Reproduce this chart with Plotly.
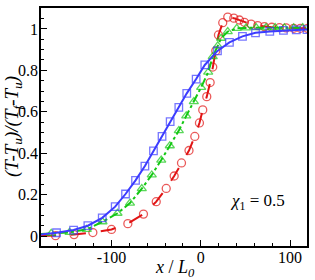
import plotly.graph_objects as go

# ---------------- data ----------------
red_x = [-179, -162.7, -142.0, -120.9, -100.0, -81.7, -64.2, -49.9, -38.7, -29.8, -21.6,
         -13.2, -6.7, -1.5, 2.2, 6.7, 10.5, 13.4, 16.8, 19.8, 24.6, 30.2, 37.0, 43.3,
         48.9, 56.4, 63.8, 71.3, 79.5, 88.1, 95.6, 104.1, 111.6, 119.5]
red_y = [0.0, 0.002, 0.007, 0.017, 0.032, 0.060, 0.106, 0.166, 0.230, 0.290, 0.353,
         0.413, 0.481, 0.546, 0.609, 0.673, 0.741, 0.816, 0.894, 0.971, 1.030, 1.057,
         1.052, 1.043, 1.032, 1.023, 1.016, 1.011, 1.008, 1.006, 1.005, 1.003, 1.003, 1.003]

green_x = [-179, -167.5, -147.0, -127.7, -110.1, -93.3, -79.3, -66.1, -54.9, -44.3, -34.7,
           -24.6, -16.3, -7.8, 0.4, 8.3, 13.4, 19.0, 22.8, 30.2, 40.3, 50.8, 62.0,
           73.2, 83.3, 93.7, 104.1, 114.2]
green_y = [0.01, 0.013, 0.018, 0.032, 0.069, 0.110, 0.159, 0.229, 0.295, 0.367, 0.436,
           0.509, 0.580, 0.649, 0.718, 0.791, 0.866, 0.918, 0.955, 0.987, 1.003, 1.005,
           1.006, 1.006, 1.006, 1.005, 1.005, 1.006]

blue_x = [-179, -161.6, -142.5, -126.5, -110.4, -95.9, -84.3, -73.1, -62.6, -53.0, -43.4,
          -34.3, -24.6, -15.7, -5.2, 4.5, 18.7, 32.1, 46.7, 61.3, 77.3, 92.6, 107.0, 119]
blue_y = [0.008, 0.016, 0.029, 0.050, 0.088, 0.142, 0.203, 0.269, 0.338, 0.411, 0.481,
          0.552, 0.621, 0.689, 0.758, 0.826, 0.894, 0.935, 0.964, 0.981, 0.988, 0.993,
          0.995, 0.997]

x_tick_vals = [-100, 0, 100]
x_tick_text = ["-100", "0", "100"]
y_tick_vals = [0, 0.2, 0.4, 0.6, 0.8, 1]
y_tick_text = ["0", "0.2", "0.4", "0.6", "0.8", "1"]

x_title = "<i>x</i> / <i>L<sub>0</sub></i>"
y_title = "<i>(T-T<sub>u</sub>)/(T<sub>f</sub>-T<sub>u</sub>)</i>"
label_text = "<i>χ</i><sub>1</sub> = 0.5"

RED = "rgb(225,20,20)"
GREEN = "rgb(20,200,20)"
BLUE = "rgb(60,60,255)"
FONT = "'Liberation Serif', serif"


def marker_sizes(xs, size):
    # the first point only carries the line to the frame edge
    return [0] + [size] * (len(xs) - 1)


fig = go.Figure()
fig.add_trace(go.Scatter(
    x=red_x, y=red_y, mode="lines+markers",
    line=dict(color=RED, width=2, dash="longdash"),
    marker=dict(symbol="circle-open", size=marker_sizes(red_x, 8), color=RED,
                line=dict(width=1.3, color=RED)),
    showlegend=False))
fig.add_trace(go.Scatter(
    x=green_x, y=green_y, mode="lines+markers",
    line=dict(color=GREEN, width=2, dash="dashdot"),
    marker=dict(symbol="triangle-up-open", size=marker_sizes(green_x, 8), color=GREEN,
                line=dict(width=1.3, color=GREEN)),
    showlegend=False))
fig.add_trace(go.Scatter(
    x=blue_x, y=blue_y, mode="lines+markers",
    line=dict(color=BLUE, width=2),
    marker=dict(symbol="square-open", size=marker_sizes(blue_x, 7.5), color=BLUE,
                line=dict(width=1.3, color=BLUE)),
    showlegend=False))

fig.add_annotation(
    x=64, y=0.165, xref="x", yref="y", showarrow=False, text=label_text,
    font=dict(family=FONT, size=17, color="black"))
fig.add_annotation(
    x=0.504, y=-0.095, xref="paper", yref="paper", showarrow=False, text=x_title,
    xanchor="center", yanchor="middle",
    font=dict(family=FONT, size=18, color="black"))
fig.add_annotation(
    x=-0.105, y=0.5, xref="paper", yref="paper", showarrow=False, text=y_title,
    textangle=-90, xanchor="center", yanchor="middle",
    font=dict(family=FONT, size=19, color="black"))

fig.update_xaxes(
    range=[-179, 119], showline=True, linecolor="black", linewidth=1.6, mirror=True,
    ticks="inside", ticklen=6, tickwidth=1, tickcolor="black",
    tickvals=x_tick_vals, ticktext=x_tick_text, automargin=False, ticklabelstandoff=-4,
    minor=dict(dtick=20, tick0=0, ticks="inside", ticklen=3, tickcolor="black", tickwidth=1),
    showgrid=False, zeroline=False,
    tickfont=dict(family=FONT, size=16, color="black"))
fig.update_yaxes(
    range=[-0.048, 1.101], showline=True, linecolor="black", linewidth=1.6, mirror=True,
    ticks="inside", ticklen=6, tickwidth=1, tickcolor="black",
    tickvals=y_tick_vals, ticktext=y_tick_text, automargin=False, ticklabelstandoff=-2,
    minor=dict(dtick=0.05, tick0=0, ticks="inside", ticklen=3, tickcolor="black", tickwidth=1),
    showgrid=False, zeroline=False,
    tickfont=dict(family=FONT, size=16, color="black"))

fig.update_layout(
    width=315, height=280,
    margin=dict(l=41, r=8, t=8, b=34),
    paper_bgcolor="white", plot_bgcolor="white",
)

fig.write_html("out.html", config={"displayModeBar": False},
               post_script="document.body.style.margin='0';")
